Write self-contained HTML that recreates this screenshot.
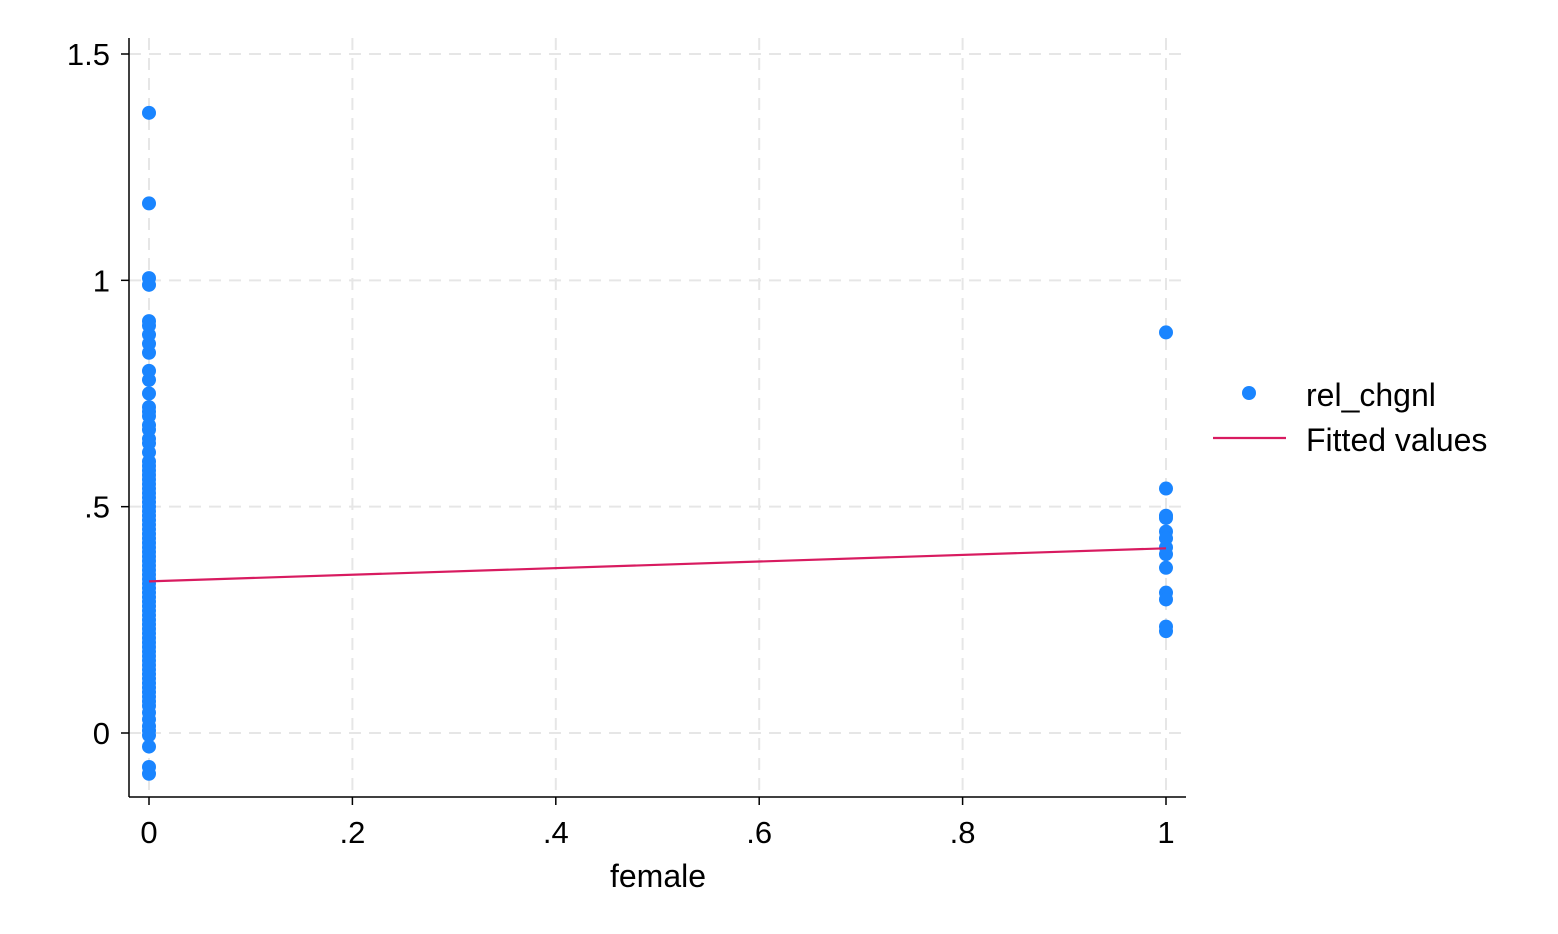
<!DOCTYPE html>
<html><head><meta charset="utf-8"><style>
body{margin:0;background:#fff;}
svg{display:block;font-family:"Liberation Sans",Arial,sans-serif;}
</style></head><body>
<svg id="chart" width="1558" height="934" viewBox="0 0 1558 934">
<rect width="1558" height="934" fill="#fff"/>
<g id="grid"></g>
<g id="axes"></g>
<g id="marks"></g>
<g id="legend">
<circle cx="1249" cy="393" r="7" fill="#1a85ff"/>
<text x="1306" y="406" font-size="32" fill="#000">rel_chgnl</text>
<line x1="1213" y1="438" x2="1286" y2="438" stroke="#d81b60" stroke-width="2.2"/>
<text x="1306" y="451" font-size="32" fill="#000">Fitted values</text>
</g>
<text x="658" y="887" font-size="32" text-anchor="middle">female</text>
</svg>
<script>
const xTicks=[0,0.2,0.4,0.6,0.8,1];
const xTickLabels=["0",".2",".4",".6",".8","1"];
const yTicks=[0,0.5,1,1.5];
const yTickLabels=["0",".5","1","1.5"];
const male=[-0.09,-0.075,-0.03,-0.005,0.005,0.015,0.03,0.045,0.06,0.07,0.08,0.09,0.1,0.11,0.12,0.13,0.14,0.15,0.16,0.17,0.18,0.19,0.2,0.21,0.22,0.23,0.24,0.25,0.26,0.27,0.28,0.29,0.3,0.31,0.32,0.33,0.34,0.35,0.36,0.37,0.38,0.39,0.4,0.41,0.42,0.43,0.44,0.45,0.46,0.47,0.48,0.49,0.5,0.51,0.52,0.53,0.54,0.55,0.56,0.57,0.58,0.59,0.6,0.62,0.64,0.65,0.67,0.68,0.7,0.71,0.72,0.75,0.78,0.8,0.84,0.86,0.88,0.9,0.91,0.99,1.005,1.17,1.37];
const female=[0.885,0.54,0.48,0.475,0.445,0.43,0.41,0.395,0.365,0.31,0.295,0.235,0.225];
const fitX=[0,1];
const fitY=[0.335,0.408];
const NS="http://www.w3.org/2000/svg";
const X=v=>149+v*(1166-149);
const Y=v=>733-v*(733-54)/1.5;
function mk(tag,attrs,parent,text){const e=document.createElementNS(NS,tag);for(const k in attrs)e.setAttribute(k,attrs[k]);if(text!==undefined)e.textContent=text;document.getElementById(parent).appendChild(e);return e;}
xTicks.forEach((t,i)=>{
 let g=mk('line',{x1:X(t),x2:X(t),y1:38,y2:797,stroke:'#e6e6e6','stroke-width':2,'stroke-dasharray':'12,8'},'grid');
 
 
 let tk=mk('line',{x1:X(t),x2:X(t),y1:797,y2:805,stroke:'#000','stroke-width':1.5},'axes');
 
 
 let l=mk('text',{x:X(t),y:843,'font-size':31,'text-anchor':'middle'},'axes',xTickLabels[i]);
 
 
});
yTicks.forEach((t,i)=>{
 let g=mk('line',{x1:129,x2:1185,y1:Y(t),y2:Y(t),stroke:'#e6e6e6','stroke-width':2,'stroke-dasharray':'12,8'},'grid');
 
 
 let tk=mk('line',{x1:121,x2:129,y1:Y(t),y2:Y(t),stroke:'#000','stroke-width':1.5},'axes');
 
 
 let l=mk('text',{x:110,y:Y(t)+11,'font-size':31,'text-anchor':'end'},'axes',yTickLabels[i]);
 
 
});
let ya=mk('line',{x1:129,x2:129,y1:38,y2:797,stroke:'#000','stroke-width':1.5},'axes');


let xa=mk('line',{x1:129,x2:1186,y1:797,y2:797,stroke:'#000','stroke-width':1.5},'axes');


male.forEach(v=>{let c=mk('circle',{cx:X(0),cy:Y(v),r:7,fill:'#1a85ff'},'marks');
 
 });
female.forEach(v=>{let c=mk('circle',{cx:X(1),cy:Y(v),r:7,fill:'#1a85ff'},'marks');
 
 });
let fl=mk('line',{x1:X(fitX[0]),y1:Y(fitY[0]),x2:X(fitX[1]),y2:Y(fitY[1]),stroke:'#d81b60','stroke-width':2.2},'marks');


</script>
</body></html>
